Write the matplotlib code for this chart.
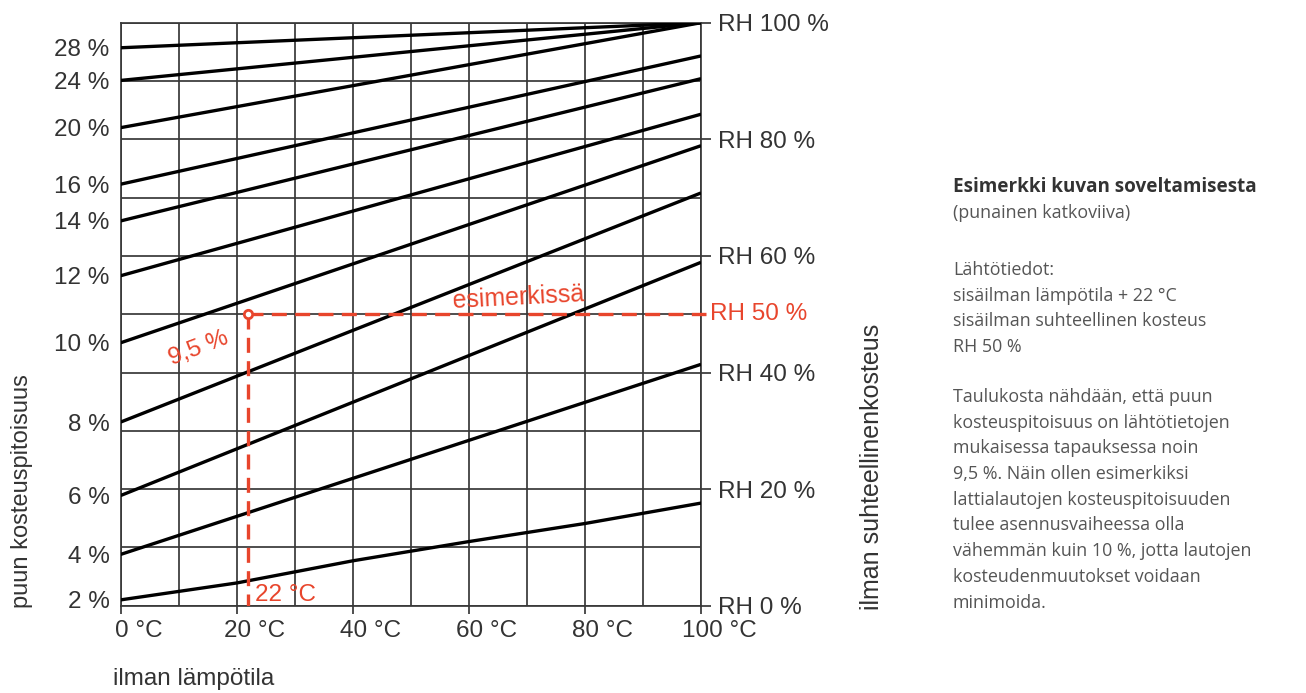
import matplotlib.pyplot as plt
import matplotlib.transforms as mtransforms

# puun kosteuspitoisuus -käyrät: alku- ja loppupiste (ilman lämpötila, RH)
moisture = [28, 24, 20, 16, 14, 12, 10, 8, 6, 4]
rh_at_0 = [95.7, 90.1, 82.0, 72.3, 66.0, 56.6, 45.1, 31.5, 18.9, 8.8]
rh_at_100 = [100, 100, 100, 94.3, 90.4, 84.3, 78.9, 70.8, 58.9, 41.4]

# 2 % käyrä on hieman kaareva
temp_2 = [0, 20, 40, 60, 80, 100]
rh_2 = [1.0, 3.9, 7.7, 11.0, 14.1, 17.6]

temp_ticks = [0, 20, 40, 60, 80, 100]
rh_ticks = [0, 20, 40, 60, 80, 100]

# esimerkki
ex_temp = 22
ex_rh = 50

text_lines = [
    ["Esimerkki kuvan soveltamisesta", "(punainen katkoviiva)"],
    ["Lähtötiedot:", "sisäilman lämpötila + 22 °C",
     "sisäilman suhteellinen kosteus", "RH 50 %"],
    ["Taulukosta nähdään, että puun", "kosteuspitoisuus on lähtötietojen",
     "mukaisessa tapauksessa noin", "9,5 %. Näin ollen esimerkiksi",
     "lattialautojen kosteuspitoisuuden", "tulee asennusvaiheessa olla",
     "vähemmän kuin 10 %, jotta lautojen", "kosteudenmuutokset voidaan",
     "minimoida."],
]

RED = '#e8452c'
GRID = '#383838'
TXT = '#333333'
FS = 17.5

plt.rcParams['font.family'] = ['Liberation Sans', 'DejaVu Sans']

W, H = 1306, 693
fig = plt.figure(figsize=(W / 100, H / 100), dpi=100)
ax = fig.add_axes([120.7 / W, 1 - 605.7 / H, (701 - 120.7) / W, (605.7 - 22.7) / H])
ax.set_xlim(0, 100)
ax.set_ylim(0, 100)

for g in range(0, 101, 10):
    ax.axhline(g, color=GRID, lw=1.25, zorder=1)
    ax.axvline(g, color=GRID, lw=1.25, zorder=1)
for s in ax.spines.values():
    s.set_color(GRID)
    s.set_linewidth(1.25)

for m, a, b in zip(moisture, rh_at_0, rh_at_100):
    ax.plot([0, 100], [a, b], color='black', lw=2.4, solid_capstyle='butt', zorder=3)
ax.plot(temp_2, rh_2, color='black', lw=2.4, zorder=3)

# vasen akseli: kosteuspitoisuus
ax.set_yticks(rh_at_0 + [rh_2[0]])
ax.set_yticklabels([f'{m} %' for m in moisture] + ['2 %'])
ax.tick_params(axis='y', length=0, pad=8, labelsize=FS, labelcolor=TXT)

# ala-akseli
ax.set_xticks(temp_ticks)
ax.set_xticklabels([f'{t} °C' for t in temp_ticks])
ax.tick_params(axis='x', direction='out', length=6, width=1.25, color=GRID,
               pad=4, labelsize=FS, labelcolor=TXT)
shift = mtransforms.ScaledTranslation(18 / 100, 0, fig.dpi_scale_trans)
for lab in ax.get_xticklabels():
    lab.set_transform(lab.get_transform() + shift)

# oikea akseli: RH
ax2 = ax.twinx()
ax2.set_ylim(0, 100)
ax2.set_yticks(rh_ticks)
ax2.set_yticklabels([f'RH {r} %' for r in rh_ticks])
ax2.tick_params(axis='y', direction='out', length=7, width=1.25, color=GRID,
                pad=5, labelsize=FS, labelcolor=TXT)
for s in ax2.spines.values():
    s.set_visible(False)

# esimerkki (punainen katkoviiva)
ax.plot([ex_temp, 100.8], [ex_rh, ex_rh], color=RED, lw=2.4, dashes=(4.5, 2.5),
        zorder=4, clip_on=False)
ax.plot([ex_temp, ex_temp], [ex_rh, 0], color=RED, lw=2.4, dashes=(4.5, 2.5), zorder=4)
ax.plot([ex_temp], [ex_rh], 'o', ms=6, mfc='white', mec=RED, mew=2, zorder=5)
ax.text(13.4, 44.2, '9,5 %', color=RED, fontsize=FS, rotation=21,
        ha='center', va='center', zorder=6)
ax.text(23.2, 1.8, '22 °C', color=RED, fontsize=FS, ha='left', va='center', zorder=6)
ax.text(68.5, 52.8, 'esimerkissä', color=RED, fontsize=18, rotation=3,
        ha='center', va='center', zorder=6)
ax.text(101.5, ex_rh, 'RH 50 %', color=RED, fontsize=FS, ha='left', va='center',
        zorder=6, clip_on=False)

# akselien otsikot
fig.text(22 / W, 1 - 608 / H, 'puun kosteuspitoisuus', rotation=90, fontsize=17,
         color=TXT, ha='center', va='bottom')
fig.text(872 / W, 1 - 467 / H, 'ilman suhteellinenkosteus', rotation=90, fontsize=18,
         color=TXT, ha='center', va='center')
fig.text(113 / W, 1 - 679 / H, 'ilman lämpötila', fontsize=FS, color=TXT,
         ha='left', va='center')

# selitysteksti
starts = [187, 270, 397]
pitch = 25.7
for block, y0 in zip(text_lines, starts):
    for i, line in enumerate(block):
        bold = (block is text_lines[0] and i == 0)
        fig.text(953 / W, 1 - (y0 + i * pitch) / H, line,
                 family=['Open Sans', 'DejaVu Sans'],
                 fontsize=13.6 if bold else 12.9,
                 fontweight='bold' if bold else 'normal',
                 color='#333333' if bold else '#555555', ha='left', va='center')

fig.savefig('out.png', dpi=100, facecolor='white')
